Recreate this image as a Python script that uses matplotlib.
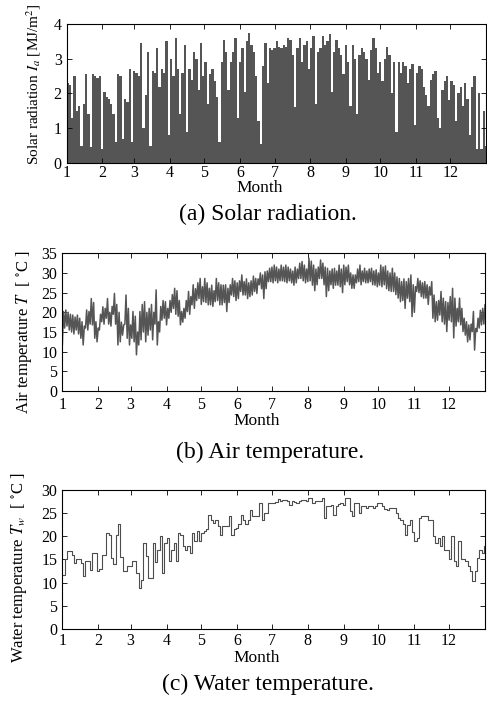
import numpy as np
import matplotlib
matplotlib.use('Agg')
import matplotlib.pyplot as plt

plt.rcParams['font.family'] = ['Liberation Serif', 'DejaVu Serif']
plt.rcParams['mathtext.fontset'] = 'stix'

# day of year (2-day steps) and month starts
days = np.arange(0, 365, 2)
month_start = [0, 31, 59, 90, 120, 151, 181, 212, 243, 273, 304, 334]
month_labels = ['1', '2', '3', '4', '5', '6', '7', '8', '9', '10', '11', '12']

# daily peak solar radiation [MJ/m2]
solar_peak = [
    2.3, 2.25, 1.3, 2.5, 1.5, 1.65, 0.5, 1.7, 2.55, 1.4,
    0.45, 2.55, 2.5, 2.45, 2.5, 0.4, 2.05, 1.9, 1.85, 1.7,
    1.4, 0.6, 2.55, 2.5, 0.7, 1.85, 1.75, 2.7, 0.6, 2.65,
    2.6, 2.5, 3.45, 1.0, 1.95, 3.2, 0.5, 2.65, 2.6, 3.3,
    2.2, 2.7, 2.6, 3.5, 0.8, 3.0, 2.5, 3.6, 2.7, 1.4,
    2.6, 3.4, 0.9, 2.7, 2.4, 3.2, 3.0, 2.1, 3.45, 2.5,
    2.9, 1.7, 2.55, 2.7, 2.35, 1.9, 0.6, 2.9, 3.55, 3.2,
    2.1, 2.9, 3.2, 3.6, 1.3, 2.9, 3.3, 2.05, 3.5, 3.75,
    3.4, 3.2, 2.5, 1.2, 0.55, 2.8, 3.45, 2.3, 3.3, 3.25,
    3.3, 3.5, 3.35, 3.3, 3.4, 3.35, 3.6, 3.55, 3.1, 1.6,
    3.3, 3.6, 2.9, 3.4, 3.5, 2.7, 3.3, 3.65, 1.7, 3.2,
    3.3, 3.65, 3.4, 3.5, 3.7, 2.05, 3.2, 3.55, 3.3, 3.1,
    2.55, 3.4, 2.9, 1.65, 3.4, 3.0, 1.4, 3.1, 3.3, 3.2,
    3.0, 2.4, 3.25, 3.6, 3.3, 2.6, 2.9, 2.35, 3.0, 3.35,
    3.1, 2.0, 2.9, 0.9, 2.9, 2.6, 2.9, 2.8, 2.3, 2.7,
    2.85, 1.1, 2.6, 2.8, 2.7, 2.2, 1.95, 1.65, 2.4, 2.55,
    2.65, 1.3, 1.0, 2.1, 2.35, 2.5, 1.8, 2.35, 2.25, 1.2,
    2.0, 2.2, 1.65, 2.3, 1.85, 0.8, 2.2, 2.5, 0.4, 2.0,
    0.4, 1.5, 0.5,
]

# air temperature daily low / high [degC]
air_lo = [
    11.7, 16.0, 16.5, 15.5, 15.0, 14.5, 15.5, 14.5, 13.4, 11.7,
    16.0, 15.5, 17.0, 16.8, 13.4, 12.5, 15.5, 17.6, 17.0, 18.5,
    17.0, 16.5, 19.5, 17.0, 11.7, 12.5, 14.2, 17.0, 13.4, 11.7,
    13.4, 12.5, 9.2, 11.7, 13.0, 15.0, 12.5, 14.2, 15.5, 13.0,
    17.0, 11.7, 15.0, 18.0, 18.5, 16.8, 18.5, 20.0, 21.0, 19.5,
    19.0, 16.8, 17.5, 18.5, 20.2, 19.5, 21.9, 21.0, 23.0, 23.5,
    22.0, 22.7, 22.5, 21.9, 21.9, 21.5, 22.7, 23.0, 21.9, 21.9,
    22.5, 20.2, 22.5, 24.4, 24.0, 23.0, 23.5, 25.3, 24.4, 24.4,
    23.5, 24.0, 24.4, 25.3, 24.8, 27.0, 26.0, 23.5, 26.0, 27.8,
    27.8, 27.5, 28.0, 27.5, 28.0, 28.0, 27.8, 27.5, 28.0, 27.5,
    26.9, 27.5, 28.6, 28.6, 28.0, 27.5, 27.8, 28.0, 26.9, 25.5,
    27.0, 28.6, 28.6, 27.0, 24.0, 25.5, 27.0, 26.1, 26.9, 26.9,
    26.5, 25.0, 27.0, 27.8, 27.0, 26.1, 26.1, 27.5, 27.8, 27.0,
    27.8, 27.5, 27.5, 27.8, 27.0, 26.9, 26.5, 26.9, 26.5, 27.0,
    26.0, 25.5, 25.3, 25.3, 24.5, 23.6, 22.7, 23.0, 21.0, 23.6,
    22.7, 18.9, 20.0, 25.3, 25.0, 24.0, 23.6, 23.6, 22.0, 24.4,
    18.5, 17.6, 18.0, 19.3, 17.6, 17.0, 15.1, 18.0, 17.6, 13.5,
    16.5, 17.6, 16.8, 15.1, 14.2, 12.5, 13.0, 15.1, 10.4, 15.1,
    16.0, 16.8, 17.0,
]
air_hi = [
    20.2, 20.6, 20.0, 19.5, 19.3, 18.8, 19.3, 18.5, 17.6, 16.5,
    20.6, 20.2, 23.5, 22.5, 17.6, 16.0, 19.5, 21.4, 21.0, 23.5,
    20.0, 21.5, 24.8, 22.0, 20.0, 17.5, 16.8, 24.4, 21.0, 16.8,
    20.2, 19.0, 15.0, 20.2, 22.0, 22.7, 20.0, 21.0, 22.0, 20.0,
    25.7, 17.6, 21.5, 23.0, 22.7, 21.0, 23.0, 24.5, 26.1, 25.5,
    23.0, 20.2, 21.0, 23.0, 25.3, 24.0, 27.0, 26.0, 27.5, 28.6,
    26.5, 28.6, 27.5, 26.1, 26.9, 25.5, 28.6, 27.5, 27.0, 26.9,
    27.0, 26.1, 27.0, 28.6, 28.0, 27.5, 28.0, 29.5, 27.8, 28.5,
    27.5, 28.0, 29.2, 28.6, 28.5, 30.0, 29.5, 30.3, 30.5, 31.2,
    31.5, 32.0, 31.5, 31.0, 32.0, 31.5, 32.0, 31.5, 31.0, 30.5,
    31.5, 31.0, 32.5, 32.9, 32.0, 31.0, 33.7, 33.0, 32.0, 31.0,
    31.5, 33.3, 32.5, 31.5, 31.2, 30.5, 31.0, 31.2, 30.5, 32.0,
    31.0, 32.0, 31.5, 32.0, 30.0, 29.5, 29.5, 31.0, 32.0, 30.5,
    31.2, 30.5, 31.0, 31.2, 30.5, 30.8, 30.0, 32.0, 31.5, 31.8,
    30.5, 30.0, 31.2, 30.0, 29.0, 28.6, 27.8, 28.5, 27.8, 28.6,
    29.5, 27.0, 26.5, 28.6, 28.0, 27.5, 27.8, 27.0, 26.5, 27.8,
    24.4, 22.7, 23.0, 25.3, 23.6, 22.7, 22.5, 24.0, 26.1, 23.6,
    21.0, 23.6, 21.0, 18.5, 17.6, 16.8, 17.0, 20.2, 15.9, 18.5,
    20.5, 21.0, 21.9,
]

# water temperature [degC]
water_t = [
    11.7, 15.0, 16.8, 16.8, 16.0, 14.2, 15.0, 15.0, 14.2, 11.4,
    14.6, 14.6, 12.8, 16.4, 16.4, 12.5, 13.0, 16.0, 16.0, 20.8,
    20.4, 15.3, 14.0, 20.4, 22.6, 15.5, 12.4, 12.4, 13.5, 13.5,
    14.6, 14.6, 12.0, 8.8, 10.6, 18.6, 15.7, 11.0, 11.0, 18.6,
    14.5, 17.1, 20.0, 12.0, 18.6, 19.7, 14.6, 17.1, 18.6, 14.6,
    20.8, 20.4, 18.0, 17.1, 17.9, 16.4, 20.8, 19.0, 21.1, 19.0,
    20.8, 21.1, 21.5, 24.7, 23.6, 22.9, 23.6, 22.2, 20.4, 22.2,
    22.2, 22.2, 24.4, 20.4, 21.5, 21.9, 22.6, 24.7, 23.6, 22.6,
    23.6, 25.8, 24.4, 24.4, 24.4, 27.3, 23.6, 25.1, 25.1, 27.3,
    27.3, 27.3, 27.5, 28.0, 27.6, 27.8, 27.8, 27.6, 26.8, 27.6,
    27.4, 27.3, 27.6, 27.8, 27.8, 27.6, 28.3, 28.3, 27.3, 27.6,
    27.6, 27.6, 28.3, 24.0, 26.5, 26.5, 26.8, 24.7, 26.5, 27.0,
    27.3, 26.8, 28.3, 28.3, 25.5, 24.4, 27.3, 27.3, 25.1, 26.5,
    26.5, 26.2, 26.5, 26.5, 26.2, 26.5, 27.3, 27.3, 26.5, 26.0,
    25.8, 26.2, 26.2, 26.2, 25.1, 24.0, 23.5, 22.6, 20.4, 22.5,
    23.6, 21.0, 18.9, 19.6, 24.0, 24.4, 24.4, 24.4, 23.6, 23.6,
    20.0, 18.6, 19.6, 17.9, 20.0, 17.1, 17.1, 15.0, 20.0, 14.6,
    13.5, 19.0, 15.0, 15.0, 14.6, 13.5, 12.4, 10.3, 12.4, 15.3,
    17.1, 16.4, 17.9,
]

# lows and highs alternate to make the daily swing
air_x = np.ravel(np.column_stack([days, days + 1]))
air_y = np.ravel(np.column_stack([air_lo, air_hi]))

fig = plt.figure(figsize=(4.87, 7.04), dpi=100)
ax1 = fig.add_axes([0.1366, 0.7685, 0.8614, 0.1974])
ax2 = fig.add_axes([0.128, 0.4446, 0.8679, 0.1956])
ax3 = fig.add_axes([0.128, 0.1070, 0.8679, 0.1966])

ax1.bar(days, solar_peak, width=2, align='edge', color='#555555', linewidth=0)
ax2.plot(air_x, air_y, color='#555555', lw=1.1)
ax3.step(days, water_t, where='post', color='#4d4d4d', lw=0.8)

pads = [1.5, 4, 3]
month_y = [-0.125, -0.16, -0.155]
for ax, pd, my in zip((ax1, ax2, ax3), pads, month_y):
    ax.set_xlim(0, 365)
    ax.set_xticks(month_start)
    ax.set_xticklabels(month_labels)
    ax.tick_params(direction='in', top=True, right=True, length=3.5,
                   width=0.6, labelsize=11.5)
    ax.tick_params(axis='x', pad=pd)
    ax.set_xlabel('Month', fontsize=12.5)
    ax.xaxis.set_label_coords(0.46, my)
    for s in ax.spines.values():
        s.set_linewidth(0.8)
        s.set_zorder(3)

ax1.set_ylim(0, 4)
ax1.set_yticks([0, 1, 2, 3, 4])
ax1.set_ylabel(r'Solar radiation $I_a$ [MJ/m$^2$]', fontsize=11)
ax1.yaxis.set_label_coords(-0.056, 0.568)

ax2.set_ylim(0, 35)
ax2.set_yticks(range(0, 36, 5))
ax2.set_ylabel(r'Air temperature $T$  [ $^{\circ}$C ]', fontsize=12)
ax2.yaxis.set_label_coords(-0.068, 0.425)

ax3.set_ylim(0, 30)
ax3.set_yticks(range(0, 31, 5))
ax3.set_ylabel(r'Water temperature $T_w$  [ $^{\circ}$C ]', fontsize=12)
ax3.yaxis.set_label_coords(-0.08, 0.442)

fig.text(0.55, 0.696, '(a) Solar radiation.', ha='center', va='center', fontsize=17)
fig.text(0.555, 0.358, '(b) Air temperature.', ha='center', va='center', fontsize=17)
fig.text(0.55, 0.0284, '(c) Water temperature.', ha='center', va='center', fontsize=17)

plt.savefig('out.png', dpi=100)
